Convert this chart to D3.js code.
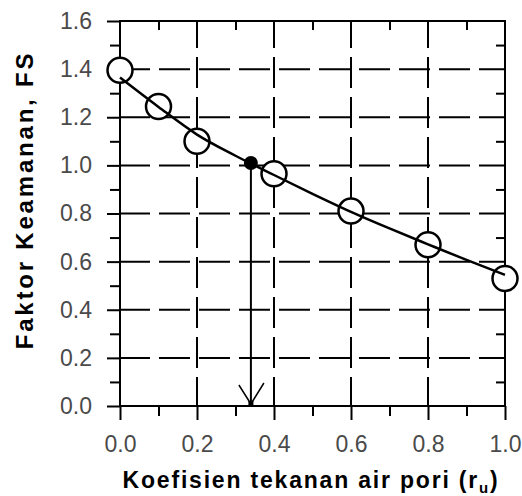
<!DOCTYPE html>
<html>
<head>
<meta charset="utf-8">
<script src="https://cdn.jsdelivr.net/npm/d3@7"></script>
<style>
  html, body { margin: 0; padding: 0; background: #fff; }
  svg { display: block; }
  .tick text { font-family: "Liberation Sans", Arial, sans-serif; }
</style>
</head>
<body>
<svg id="chart" width="522" height="496"></svg>
<script>
// ---- data ----
const rU = [0.0, 0.1, 0.2, 0.4, 0.6, 0.8, 1.0];              // measured points (x)
const fsValues = [1.395, 1.245, 1.10, 0.965, 0.81, 0.67, 0.53]; // measured FS
const fitX = [0.0, 0.1, 0.2, 0.3, 0.4, 0.5, 0.6, 0.7, 0.8, 0.9, 1.0];   // fitted curve
const fitY = [1.365, 1.243, 1.128, 1.04, 0.96, 0.882, 0.807, 0.738, 0.672, 0.607, 0.545];
const critX = 0.34;   // r_u where FS = 1.0
const critY = 1.01;
const xTicks = [0.0, 0.2, 0.4, 0.6, 0.8, 1.0];
const xMinor = [0.1, 0.3, 0.5, 0.7, 0.9];
const yTicks = [0.0, 0.2, 0.4, 0.6, 0.8, 1.0, 1.2, 1.4, 1.6];
const yMinor = [0.1, 0.3, 0.5, 0.7, 0.9, 1.1, 1.3, 1.5];
const xTitle = "Koefisien tekanan air pori (r";
const xTitleSub = "u";
const yTitle = "Faktor Keamanan, FS";

// ---- layout ----
const svg = d3.select("#chart");
const L = 120, R = 505, T = 21, B = 406;
const x = d3.scaleLinear().domain([0, 1]).range([L, R]);
const y = d3.scaleLinear().domain([0, 1.6]).range([B, T]);
const fmt = d3.format(".1f");
const ink = "#000";

// grid (dashed)
const grid = svg.append("g");
grid.selectAll("line.h").data(yTicks.filter(v => v > 0 && v < 1.6)).join("line")
  .attr("x1", L).attr("x2", R).attr("y1", d => y(d)).attr("y2", d => y(d))
  .attr("stroke", ink).attr("stroke-width", 2)
  .attr("stroke-dasharray", "31 9").attr("stroke-dashoffset", 1);
grid.selectAll("line.v").data(xTicks.filter(v => v > 0 && v < 1)).join("line")
  .attr("x1", d => x(d)).attr("x2", d => x(d)).attr("y1", T).attr("y2", B)
  .attr("stroke", ink).attr("stroke-width", 2)
  .attr("stroke-dasharray", "31 9").attr("stroke-dashoffset", 4);

// axes
function styleAxis(g) {
  g.select(".domain").remove();
  g.selectAll(".tick line").attr("stroke", ink).attr("stroke-width", 2);
  g.selectAll(".tick text").attr("fill", "#4a4a4a").attr("font-size", 23);
}
svg.append("g").attr("transform", `translate(${L},0)`)
  .call(d3.axisLeft(y).tickValues(yTicks).tickSize(13).tickPadding(15).tickFormat(fmt))
  .call(styleAxis);
svg.append("g").attr("transform", `translate(${L},0)`)
  .call(d3.axisLeft(y).tickValues(yMinor).tickSize(10).tickFormat(""))
  .call(styleAxis);
svg.append("g").attr("transform", `translate(0,${B})`)
  .call(d3.axisBottom(x).tickValues(xTicks).tickSize(14).tickPadding(16).tickFormat(fmt))
  .call(styleAxis);
svg.append("g").attr("transform", `translate(0,${B})`)
  .call(d3.axisBottom(x).tickValues(xMinor).tickSize(10).tickFormat(""))
  .call(styleAxis);
svg.append("g").attr("transform", `translate(0,${T})`)
  .call(d3.axisTop(x).tickValues(xMinor).tickSize(-9).tickFormat(""))
  .call(styleAxis);
svg.append("g").attr("transform", `translate(${R},0)`)
  .call(d3.axisRight(y).tickValues(yMinor).tickSize(-9).tickFormat(""))
  .call(styleAxis);

// frame
svg.append("rect").attr("x", L).attr("y", T).attr("width", R - L).attr("height", B - T)
  .attr("fill", "none").attr("stroke", ink).attr("stroke-width", 2);

// markers (open circles)
const pts = rU.map((v, i) => ({ x: v, y: fsValues[i] }));
svg.append("g").selectAll("circle").data(pts).join("circle")
  .attr("cx", d => x(d.x)).attr("cy", d => y(d.y)).attr("r", 12.5)
  .attr("fill", "#fff").attr("stroke", ink).attr("stroke-width", 2.5);

// fitted curve
const fit = fitX.map((v, i) => [v, fitY[i]]);
svg.append("path").datum(fit)
  .attr("d", d3.line().x(d => x(d[0])).y(d => y(d[1])).curve(d3.curveMonotoneX))
  .attr("fill", "none").attr("stroke", ink).attr("stroke-width", 2.5);

// critical point + arrow
svg.append("line").attr("x1", x(critX)).attr("x2", x(critX)).attr("y1", y(critY)).attr("y2", y(0))
  .attr("stroke", ink).attr("stroke-width", 2);
svg.append("path")
  .attr("d", `M${x(critX) - 12},${y(0) - 21} L${x(critX)},${y(0) - 2} L${x(critX) + 13},${y(0) - 23}`)
  .attr("fill", "none").attr("stroke", ink).attr("stroke-width", 1.5);
svg.append("rect").attr("x", x(critX) - 2.5).attr("y", y(0) - 5).attr("width", 5).attr("height", 5).attr("fill", ink);
svg.append("circle").attr("cx", x(critX)).attr("cy", y(critY)).attr("r", 7).attr("fill", ink);

// titles
const xt = svg.append("text").attr("x", 311).attr("y", 488)
  .attr("text-anchor", "middle").attr("font-family", "Liberation Sans, Arial, sans-serif")
  .attr("font-weight", "bold").attr("font-size", 23).attr("letter-spacing", 1.8).attr("fill", ink);
xt.append("tspan").text(xTitle);
xt.append("tspan").attr("font-size", 15).attr("dy", 5).text(xTitleSub);
xt.append("tspan").attr("dy", -5).text(")");

svg.append("text").attr("transform", `translate(33,200) rotate(-90)`)
  .attr("text-anchor", "middle").attr("font-family", "Liberation Sans, Arial, sans-serif")
  .attr("font-weight", "bold").attr("font-size", 24).attr("letter-spacing", 2.8).attr("fill", ink)
  .text(yTitle);
</script>
</body>
</html>
